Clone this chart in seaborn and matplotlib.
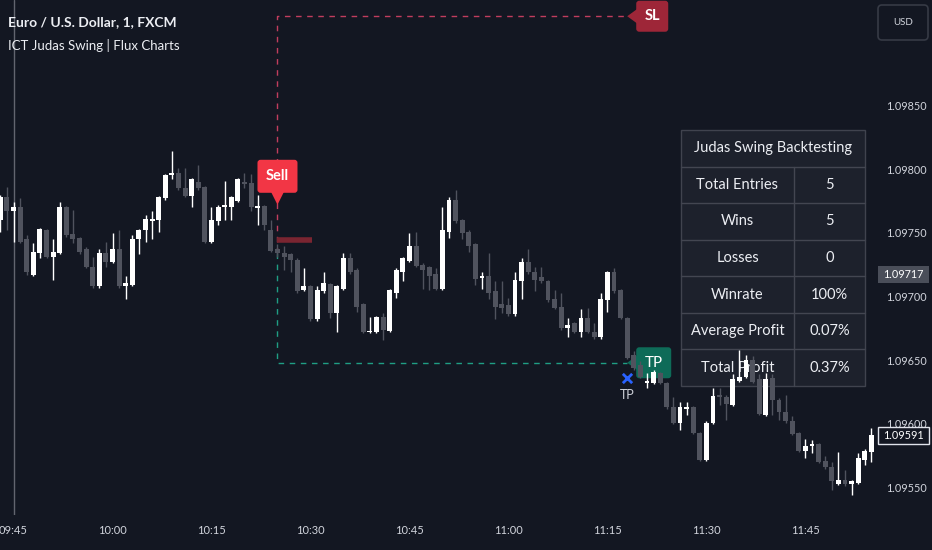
import numpy as np
import pandas as pd
import matplotlib
matplotlib.use("Agg")
import matplotlib.pyplot as plt
from matplotlib.patches import FancyBboxPatch, Polygon, Rectangle
from matplotlib.transforms import IdentityTransform
import seaborn as sns

# --- dados: velas de 1 minuto EUR/USD (minutos depois das 09:45) ---
minutes = list(range(-2, 131))
opens = [1.09760, 1.09778, 1.09767, 1.09770, 1.09745, 1.09717, 1.09734, 1.09752, 1.09731, 1.09734,
         1.09770, 1.09749, 1.09746, 1.09737, 1.09723, 1.09708, 1.09734, 1.09727, 1.09737, 1.09708,
         1.09709, 1.09745, 1.09752, 1.09759, 1.09760, 1.09777, 1.09795, 1.09797, 1.09785, 1.09779,
         1.09790, 1.09786, 1.09743, 1.09759, 1.09770, 1.09770, 1.09775, 1.09790, 1.09789, 1.09770,
         1.09771, 1.09752, 1.09737, 1.09734, 1.09733, 1.09729, 1.09705, 1.09708, 1.09682, 1.09704,
         1.09710, 1.09687, 1.09706, 1.09730, 1.09721, 1.09694, 1.09672, 1.09672, 1.09684, 1.09673,
         1.09703, 1.09719, 1.09728, 1.09740, 1.09725, 1.09723, 1.09718, 1.09706, 1.09751, 1.09776,
         1.09760, 1.09751, 1.09741, 1.09715, 1.09716, 1.09704, 1.09694, 1.09693, 1.09686, 1.09712,
         1.09727, 1.09719, 1.09715, 1.09712, 1.09698, 1.09692, 1.09675, 1.09679, 1.09672, 1.09683,
         1.09672, 1.09668, 1.09697, 1.09719, 1.09705, 1.09683, 1.09654, 1.09646, 1.09632, 1.09632,
         1.09640, 1.09632, 1.09613, 1.09601, 1.09612, 1.09613, 1.09593, 1.09572, 1.09601, 1.09623,
         1.09621, 1.09615, 1.09634, 1.09637, 1.09650, 1.09635, 1.09607, 1.09636, 1.09619, 1.09609,
         1.09602, 1.09593, 1.09579, 1.09583, 1.09584, 1.09571, 1.09566, 1.09553, 1.09556, 1.09553,
         1.09554, 1.09572, 1.09578]
highs = [1.09780, 1.09786, 1.09774, 1.09777, 1.09748, 1.09742, 1.09754, 1.09753, 1.09745, 1.09774,
         1.09771, 1.09768, 1.09747, 1.09739, 1.09731, 1.09737, 1.09743, 1.09750, 1.09752, 1.09716,
         1.09748, 1.09753, 1.09764, 1.09767, 1.09779, 1.09796, 1.09814, 1.09801, 1.09801, 1.09793,
         1.09803, 1.09787, 1.09770, 1.09772, 1.09791, 1.09779, 1.09793, 1.09797, 1.09796, 1.09780,
         1.09772, 1.09760, 1.09741, 1.09740, 1.09734, 1.09730, 1.09722, 1.09709, 1.09708, 1.09719,
         1.09711, 1.09709, 1.09734, 1.09734, 1.09722, 1.09695, 1.09684, 1.09685, 1.09687, 1.09706,
         1.09722, 1.09731, 1.09750, 1.09751, 1.09726, 1.09724, 1.09722, 1.09770, 1.09778, 1.09784,
         1.09761, 1.09752, 1.09742, 1.09719, 1.09734, 1.09712, 1.09712, 1.09699, 1.09719, 1.09730,
         1.09737, 1.09723, 1.09723, 1.09713, 1.09705, 1.09703, 1.09683, 1.09680, 1.09690, 1.09691,
         1.09679, 1.09703, 1.09720, 1.09722, 1.09706, 1.09684, 1.09657, 1.09649, 1.09640, 1.09642,
         1.09641, 1.09633, 1.09621, 1.09617, 1.09617, 1.09614, 1.09594, 1.09602, 1.09628, 1.09628,
         1.09623, 1.09639, 1.09658, 1.09654, 1.09653, 1.09639, 1.09640, 1.09639, 1.09620, 1.09623,
         1.09606, 1.09594, 1.09588, 1.09587, 1.09585, 1.09575, 1.09570, 1.09578, 1.09564, 1.09556,
         1.09577, 1.09580, 1.09597]
lows = [1.09751, 1.09752, 1.09743, 1.09742, 1.09717, 1.09716, 1.09730, 1.09730, 1.09713, 1.09733,
        1.09747, 1.09742, 1.09733, 1.09722, 1.09707, 1.09707, 1.09723, 1.09726, 1.09707, 1.09698,
        1.09708, 1.09733, 1.09743, 1.09745, 1.09751, 1.09776, 1.09792, 1.09784, 1.09778, 1.09770,
        1.09784, 1.09742, 1.09742, 1.09756, 1.09760, 1.09760, 1.09774, 1.09785, 1.09767, 1.09756,
        1.09752, 1.09735, 1.09731, 1.09721, 1.09719, 1.09703, 1.09704, 1.09681, 1.09681, 1.09703,
        1.09683, 1.09672, 1.09705, 1.09718, 1.09688, 1.09671, 1.09671, 1.09671, 1.09666, 1.09672,
        1.09699, 1.09712, 1.09727, 1.09723, 1.09706, 1.09705, 1.09705, 1.09705, 1.09746, 1.09758,
        1.09745, 1.09735, 1.09709, 1.09706, 1.09698, 1.09682, 1.09687, 1.09685, 1.09685, 1.09698,
        1.09718, 1.09704, 1.09711, 1.09696, 1.09690, 1.09674, 1.09668, 1.09671, 1.09668, 1.09671,
        1.09667, 1.09667, 1.09688, 1.09703, 1.09682, 1.09651, 1.09642, 1.09636, 1.09628, 1.09631,
        1.09631, 1.09612, 1.09600, 1.09595, 1.09607, 1.09592, 1.09571, 1.09571, 1.09600, 1.09615,
        1.09603, 1.09614, 1.09633, 1.09636, 1.09632, 1.09607, 1.09606, 1.09607, 1.09603, 1.09601,
        1.09591, 1.09578, 1.09573, 1.09577, 1.09569, 1.09565, 1.09548, 1.09552, 1.09551, 1.09544,
        1.09553, 1.09568, 1.09570]
closes = [1.09778, 1.09767, 1.09770, 1.09743, 1.09719, 1.09735, 1.09753, 1.09731, 1.09735, 1.09770,
          1.09748, 1.09745, 1.09735, 1.09723, 1.09708, 1.09734, 1.09727, 1.09737, 1.09708, 1.09711,
          1.09745, 1.09752, 1.09761, 1.09761, 1.09778, 1.09795, 1.09797, 1.09785, 1.09779, 1.09792,
          1.09785, 1.09743, 1.09760, 1.09770, 1.09772, 1.09778, 1.09792, 1.09788, 1.09770, 1.09771,
          1.09756, 1.09736, 1.09734, 1.09731, 1.09729, 1.09704, 1.09708, 1.09682, 1.09705, 1.09711,
          1.09687, 1.09708, 1.09730, 1.09719, 1.09692, 1.09672, 1.09673, 1.09684, 1.09674, 1.09705,
          1.09721, 1.09730, 1.09740, 1.09724, 1.09721, 1.09716, 1.09706, 1.09752, 1.09776, 1.09759,
          1.09750, 1.09740, 1.09714, 1.09716, 1.09703, 1.09692, 1.09691, 1.09686, 1.09713, 1.09727,
          1.09719, 1.09713, 1.09712, 1.09697, 1.09691, 1.09675, 1.09678, 1.09672, 1.09683, 1.09672,
          1.09668, 1.09698, 1.09719, 1.09704, 1.09683, 1.09652, 1.09644, 1.09637, 1.09634, 1.09641,
          1.09632, 1.09613, 1.09601, 1.09613, 1.09613, 1.09593, 1.09572, 1.09601, 1.09622, 1.09621,
          1.09616, 1.09635, 1.09637, 1.09650, 1.09633, 1.09608, 1.09635, 1.09619, 1.09609, 1.09602,
          1.09592, 1.09579, 1.09583, 1.09584, 1.09570, 1.09566, 1.09555, 1.09556, 1.09553, 1.09555,
          1.09573, 1.09579, 1.09591]

time_ticks = [0, 15, 30, 45, 60, 75, 90, 105, 120]
time_labels = ['09:45', '10:00', '10:15', '10:30', '10:45', '11:00', '11:15', '11:30', '11:45']
price_ticks = [1.0955, 1.0960, 1.0965, 1.0970, 1.0975, 1.0980, 1.0985]

# trade do Judas Swing
entry_min, exit_min = 40, 93
entry_price = 1.09734
sl_price = 1.09920
tp_price = 1.09648
sell_label_price = 1.09772
tp_mark_price = 1.09636
swing_level, swing_end = 1.09744, 45.2
last_price = 1.09591
marked_price = 1.09717

table_title = 'Judas Swing Backtesting'
table_labels = ['Total Entries', 'Wins', 'Losses', 'Winrate', 'Average Profit', 'Total Profit']
table_values = ['5', '5', '0', '100%', '0.07%', '0.37%']

BG = '#131722'
TXT = '#d1d4dc'
UP = '#ffffff'
DOWN = '#50535e'

sns.set_style('dark', {'axes.facecolor': BG, 'figure.facecolor': BG})
plt.rcParams['font.family'] = ['Lato', 'DejaVu Sans']

W, H = 932, 550
fig = plt.figure(figsize=(W / 100, H / 100), dpi=100)
fig.patch.set_facecolor(BG)
ax = fig.add_axes([0, 35 / H, 876 / W, 515 / H])
ax.set_facecolor(BG)
ax.set_xlim(-2.05, 130.7)
ax.set_ylim(1.095285, 1.0993275)
ax.grid(False)
for s in ax.spines.values():
    s.set_visible(False)

df = pd.DataFrame({'minute': minutes, 'open': opens, 'high': highs, 'low': lows, 'close': closes})
cores = np.where(df['close'] >= df['open'], UP, DOWN)
body_h = np.maximum((df['close'] - df['open']).abs(), 0.000013)
body_bottom = (df['close'] + df['open']) / 2 - body_h / 2

# linha vertical da sessão
ax.axvline(0, color='#62656f', lw=1, zorder=1)

# velas
ax.vlines(df['minute'], df['low'], df['high'], colors=cores, lw=1, zorder=3)
ax.bar(df['minute'], body_h, bottom=body_bottom, width=0.74, color=cores, linewidth=0, zorder=3)

# caixas de SL / TP tracejadas
ax.plot([entry_min, entry_min, exit_min], [entry_price, sl_price, sl_price],
        color='#c13d5e', lw=1, ls=(0, (4, 4)), zorder=1.6)
ax.plot([entry_min, entry_min, exit_min], [entry_price, tp_price, tp_price],
        color='#1f9e84', lw=1, ls=(0, (4, 4)), zorder=1.6)
ax.hlines(swing_level, entry_min, swing_end, color='#7a2531', lw=4, zorder=1.7)

ident = IdentityTransform()


def P(x, y):
    return (x, H - y)


def callout(xd, yd, text, color, side, w, h, tip, weight='bold', fs=10):
    tx, ty = ax.transData.transform((xd, yd))
    if side == 'down':
        x0, y0 = tx - w / 2, ty + tip
        tri = [(tx, ty), (tx - 7, y0 + 2), (tx + 7, y0 + 2)]
    else:
        x0, y0 = tx + tip, ty - h / 2
        tri = [(tx, ty), (x0 + 2, ty + 8), (x0 + 2, ty - 8)]
    ax.add_patch(FancyBboxPatch((x0, y0), w, h, boxstyle='round,pad=0,rounding_size=3',
                                transform=ident, fc=color, ec='none', zorder=2))
    ax.add_patch(Polygon(tri, closed=True, transform=ident, fc=color, ec='none', zorder=2))
    ax.text(x0 + w / 2, y0 + h / 2, text, transform=ident, ha='center', va='center',
            color='white', fontsize=fs, fontweight=weight, zorder=2.1)


callout(entry_min, sell_label_price, 'Sell', '#f23645', 'down', 40, 33, 12, fs=10.5)
callout(exit_min, sl_price, 'SL', '#9e2638', 'left', 32, 31, 9, fs=10.5)
callout(exit_min, tp_price, 'TP', '#0e6b58', 'left', 35, 31, 9, weight='normal', fs=11)

sns.scatterplot(x=[exit_min], y=[tp_mark_price], marker='x', s=45, color='#2962ff',
                linewidth=2, ax=ax, zorder=4, legend=False)
ax.annotate('TP', (exit_min, tp_mark_price), xytext=(0, -8), textcoords='offset points',
            ha='center', va='top', color=TXT, fontsize=9, zorder=4)

# tabela de backtesting
t_left, t_right, t_split = 681, 865, 794
edges = np.linspace(130, 386, len(table_labels) + 2)
ax.add_patch(Rectangle(P(t_left, edges[-1]), t_right - t_left, edges[-1] - edges[0],
                       transform=ident, fc='#1e222d', ec='#434651', lw=1, alpha=0.95, zorder=1.2))
for e in edges[1:-1]:
    ax.plot([t_left, t_right], [H - e, H - e], transform=ident, color='#434651', lw=1, zorder=1.3)
ax.plot([t_split, t_split], [H - edges[1], H - edges[-1]], transform=ident,
        color='#434651', lw=1, zorder=1.3)
ax.text((t_left + t_right) / 2, H - (edges[0] + edges[1]) / 2, table_title, transform=ident,
        ha='center', va='center', color='#eceef3', fontsize=10.5, zorder=1.4)
for i, (lab, val) in enumerate(zip(table_labels, table_values)):
    yc = H - (edges[i + 1] + edges[i + 2]) / 2
    ax.text((t_left + t_split) / 2, yc, lab, transform=ident, ha='center', va='center',
            color='#eceef3', fontsize=10.5, zorder=1.4)
    ax.text((t_split + t_right) / 2, yc, val, transform=ident, ha='center', va='center',
            color='#eceef3', fontsize=10.5, zorder=1.4)

# eixos
ax.yaxis.tick_right()
ax.set_yticks(price_ticks)
ax.set_yticklabels([f'{v:.5f}' for v in price_ticks])
ax.set_xticks(time_ticks)
ax.set_xticklabels(time_labels)
ax.tick_params(axis='y', length=0, pad=7, labelsize=7.8, labelcolor=TXT)
ax.tick_params(axis='x', length=0, pad=7, labelsize=8, labelcolor=TXT)
ax.set_xlabel('')
ax.set_ylabel('')

# etiquetas de preço no eixo direito
for price, fc, ec in [(marked_price, '#4a4e59', 'none'), (last_price, BG, '#e0e3eb')]:
    yy = ax.transData.transform((0, price))[1]
    fig.add_artist(Rectangle((878, yy - 8.5), 51, 17, transform=ident, fc=fc, ec=ec, lw=1, zorder=5))
    fig.text(903.5 / W, yy / H, f'{price:.5f}', ha='center', va='center', color='white',
             fontsize=7.8, zorder=6)

# caixa USD
fig.add_artist(FancyBboxPatch((878, H - 40), 50, 35, boxstyle='round,pad=0,rounding_size=4',
                              transform=ident, fc=BG, ec='#363a45', lw=1.2))
fig.text(903 / W, 1 - 22.5 / H, 'USD', ha='center', va='center', color=TXT, fontsize=7)

# títulos
fig.text(8 / W, 1 - 22 / H, 'Euro / U.S. Dollar, 1, FXCM', ha='left', va='center',
         color='#eceef3', fontsize=10, fontweight='bold')
fig.text(8 / W, 1 - 45 / H, 'ICT Judas Swing | Flux Charts', ha='left', va='center',
         color='#eceef3', fontsize=9.5)

fig.savefig('out.png', dpi=100, facecolor=BG)
